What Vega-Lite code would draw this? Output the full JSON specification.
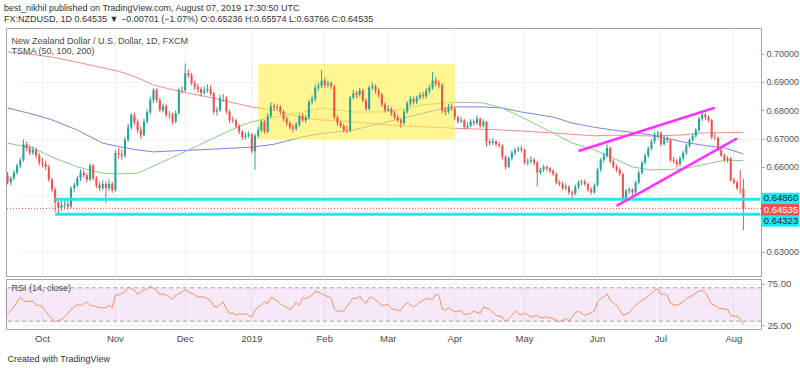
{
"$schema": "https://vega.github.io/schema/vega-lite/v6.json",
"padding": {"left": 4, "top": 3, "right": 3, "bottom": 3},
"background": "white",
"config": {
  "font": "Liberation Sans Narrow, Liberation Sans, sans-serif",
  "view": {"stroke": null},
  "axis": {"labelColor": "#4a4a4a", "labelFontSize": 9, "gridColor": "#eef1f6", "domain": false, "ticks": false, "minExtent": 0, "title": null}
},
"title": {"text": "best_nikhil published on TradingView.com, August 07, 2019 17:30:50 UTC", "subtitle": "FX:NZDUSD, 1D  0.64535 ▼ −0.00701 (−1.07%) O:0.65236 H:0.65574 L:0.63766 C:0.64535", "anchor": "start", "fontSize": 9, "fontWeight": "normal", "color": "#333333", "subtitleFontSize": 9, "subtitleColor": "#333333", "subtitlePadding": 2, "offset": 4, "dx": -1},
"datasets": {
"c": [
{"d":"2018-09-14","o":0.6570,"h":0.6582,"l":0.6538,"c":0.6545},
{"d":"2018-09-17","o":0.6545,"h":0.6566,"l":0.6535,"c":0.6560},
{"d":"2018-09-18","o":0.6560,"h":0.6588,"l":0.6552,"c":0.6580},
{"d":"2018-09-19","o":0.6580,"h":0.6612,"l":0.6572,"c":0.6605},
{"d":"2018-09-20","o":0.6605,"h":0.6632,"l":0.6595,"c":0.6625},
{"d":"2018-09-21","o":0.6625,"h":0.6697,"l":0.6618,"c":0.6680},
{"d":"2018-09-24","o":0.6680,"h":0.6690,"l":0.6655,"c":0.6665},
{"d":"2018-09-25","o":0.6665,"h":0.6678,"l":0.6640,"c":0.6650},
{"d":"2018-09-26","o":0.6650,"h":0.6672,"l":0.6642,"c":0.6660},
{"d":"2018-09-27","o":0.6660,"h":0.6668,"l":0.6630,"c":0.6640},
{"d":"2018-09-28","o":0.6640,"h":0.6650,"l":0.6605,"c":0.6615},
{"d":"2018-10-01","o":0.6615,"h":0.6632,"l":0.6598,"c":0.6610},
{"d":"2018-10-02","o":0.6610,"h":0.6622,"l":0.6588,"c":0.6600},
{"d":"2018-10-03","o":0.6600,"h":0.6608,"l":0.6548,"c":0.6555},
{"d":"2018-10-04","o":0.6555,"h":0.6562,"l":0.6510,"c":0.6520},
{"d":"2018-10-05","o":0.6520,"h":0.6528,"l":0.6440,"c":0.6476},
{"d":"2018-10-08","o":0.6476,"h":0.6488,"l":0.6432,"c":0.6455},
{"d":"2018-10-09","o":0.6455,"h":0.6480,"l":0.6445,"c":0.6465},
{"d":"2018-10-10","o":0.6465,"h":0.6490,"l":0.6450,"c":0.6470},
{"d":"2018-10-11","o":0.6470,"h":0.6482,"l":0.6448,"c":0.6460},
{"d":"2018-10-12","o":0.6460,"h":0.6532,"l":0.6455,"c":0.6525},
{"d":"2018-10-15","o":0.6525,"h":0.6545,"l":0.6510,"c":0.6535},
{"d":"2018-10-16","o":0.6535,"h":0.6568,"l":0.6528,"c":0.6560},
{"d":"2018-10-17","o":0.6560,"h":0.6592,"l":0.6550,"c":0.6580},
{"d":"2018-10-18","o":0.6580,"h":0.6590,"l":0.6562,"c":0.6570},
{"d":"2018-10-19","o":0.6570,"h":0.6578,"l":0.6545,"c":0.6555},
{"d":"2018-10-22","o":0.6555,"h":0.6612,"l":0.6550,"c":0.6605},
{"d":"2018-10-23","o":0.6605,"h":0.6610,"l":0.6552,"c":0.6560},
{"d":"2018-10-24","o":0.6560,"h":0.6568,"l":0.6525,"c":0.6535},
{"d":"2018-10-25","o":0.6535,"h":0.6548,"l":0.6515,"c":0.6525},
{"d":"2018-10-26","o":0.6525,"h":0.6552,"l":0.6518,"c":0.6540},
{"d":"2018-10-29","o":0.6540,"h":0.6548,"l":0.6472,"c":0.6525},
{"d":"2018-10-30","o":0.6525,"h":0.6555,"l":0.6515,"c":0.6540},
{"d":"2018-10-31","o":0.6540,"h":0.6548,"l":0.6508,"c":0.6518},
{"d":"2018-11-01","o":0.6518,"h":0.6660,"l":0.6512,"c":0.6649},
{"d":"2018-11-02","o":0.6649,"h":0.6668,"l":0.6630,"c":0.6645},
{"d":"2018-11-05","o":0.6645,"h":0.6662,"l":0.6625,"c":0.6640},
{"d":"2018-11-06","o":0.6640,"h":0.6705,"l":0.6632,"c":0.6695},
{"d":"2018-11-07","o":0.6695,"h":0.6752,"l":0.6688,"c":0.6740},
{"d":"2018-11-08","o":0.6740,"h":0.6790,"l":0.6730,"c":0.6783},
{"d":"2018-11-09","o":0.6783,"h":0.6792,"l":0.6748,"c":0.6759},
{"d":"2018-11-12","o":0.6759,"h":0.6768,"l":0.6720,"c":0.6730},
{"d":"2018-11-13","o":0.6730,"h":0.6742,"l":0.6700,"c":0.6713},
{"d":"2018-11-14","o":0.6713,"h":0.6770,"l":0.6708,"c":0.6760},
{"d":"2018-11-15","o":0.6760,"h":0.6805,"l":0.6752,"c":0.6794},
{"d":"2018-11-16","o":0.6794,"h":0.6848,"l":0.6785,"c":0.6836},
{"d":"2018-11-19","o":0.6836,"h":0.6880,"l":0.6825,"c":0.6872},
{"d":"2018-11-20","o":0.6872,"h":0.6878,"l":0.6828,"c":0.6836},
{"d":"2018-11-21","o":0.6836,"h":0.6845,"l":0.6795,"c":0.6800},
{"d":"2018-11-22","o":0.6800,"h":0.6825,"l":0.6792,"c":0.6815},
{"d":"2018-11-23","o":0.6815,"h":0.6822,"l":0.6775,"c":0.6783},
{"d":"2018-11-26","o":0.6783,"h":0.6798,"l":0.6770,"c":0.6785},
{"d":"2018-11-27","o":0.6785,"h":0.6792,"l":0.6750,"c":0.6760},
{"d":"2018-11-28","o":0.6760,"h":0.6800,"l":0.6755,"c":0.6790},
{"d":"2018-11-29","o":0.6790,"h":0.6880,"l":0.6785,"c":0.6872},
{"d":"2018-11-30","o":0.6872,"h":0.6885,"l":0.6858,"c":0.6870},
{"d":"2018-12-03","o":0.6870,"h":0.6966,"l":0.6865,"c":0.6931},
{"d":"2018-12-04","o":0.6931,"h":0.6945,"l":0.6915,"c":0.6925},
{"d":"2018-12-05","o":0.6925,"h":0.6932,"l":0.6888,"c":0.6895},
{"d":"2018-12-06","o":0.6895,"h":0.6905,"l":0.6872,"c":0.6883},
{"d":"2018-12-07","o":0.6883,"h":0.6895,"l":0.6862,"c":0.6875},
{"d":"2018-12-10","o":0.6875,"h":0.6882,"l":0.6848,"c":0.6861},
{"d":"2018-12-11","o":0.6861,"h":0.6885,"l":0.6855,"c":0.6870},
{"d":"2018-12-12","o":0.6870,"h":0.6892,"l":0.6862,"c":0.6875},
{"d":"2018-12-13","o":0.6875,"h":0.6888,"l":0.6852,"c":0.6860},
{"d":"2018-12-14","o":0.6860,"h":0.6865,"l":0.6785,"c":0.6795},
{"d":"2018-12-17","o":0.6795,"h":0.6812,"l":0.6782,"c":0.6800},
{"d":"2018-12-18","o":0.6800,"h":0.6855,"l":0.6795,"c":0.6843},
{"d":"2018-12-19","o":0.6843,"h":0.6858,"l":0.6830,"c":0.6843},
{"d":"2018-12-20","o":0.6843,"h":0.6850,"l":0.6788,"c":0.6795},
{"d":"2018-12-21","o":0.6795,"h":0.6802,"l":0.6755,"c":0.6766},
{"d":"2018-12-24","o":0.6766,"h":0.6778,"l":0.6755,"c":0.6765},
{"d":"2018-12-25","o":0.6765,"h":0.6770,"l":0.6738,"c":0.6745},
{"d":"2018-12-26","o":0.6745,"h":0.6752,"l":0.6715,"c":0.6725},
{"d":"2018-12-27","o":0.6725,"h":0.6730,"l":0.6695,"c":0.6705},
{"d":"2018-12-28","o":0.6705,"h":0.6722,"l":0.6698,"c":0.6710},
{"d":"2018-12-31","o":0.6710,"h":0.6725,"l":0.6702,"c":0.6715},
{"d":"2019-01-01","o":0.6715,"h":0.6720,"l":0.6648,"c":0.6655},
{"d":"2019-01-02","o":0.6655,"h":0.6718,"l":0.6590,"c":0.6710},
{"d":"2019-01-03","o":0.6710,"h":0.6742,"l":0.6702,"c":0.6730},
{"d":"2019-01-04","o":0.6730,"h":0.6768,"l":0.6722,"c":0.6760},
{"d":"2019-01-07","o":0.6760,"h":0.6765,"l":0.6718,"c":0.6725},
{"d":"2019-01-08","o":0.6725,"h":0.6790,"l":0.6720,"c":0.6780},
{"d":"2019-01-09","o":0.6780,"h":0.6828,"l":0.6772,"c":0.6815},
{"d":"2019-01-10","o":0.6815,"h":0.6825,"l":0.6798,"c":0.6810},
{"d":"2019-01-11","o":0.6810,"h":0.6822,"l":0.6800,"c":0.6812},
{"d":"2019-01-14","o":0.6812,"h":0.6818,"l":0.6785,"c":0.6795},
{"d":"2019-01-15","o":0.6795,"h":0.6802,"l":0.6762,"c":0.6770},
{"d":"2019-01-16","o":0.6770,"h":0.6778,"l":0.6745,"c":0.6755},
{"d":"2019-01-17","o":0.6755,"h":0.6762,"l":0.6732,"c":0.6740},
{"d":"2019-01-18","o":0.6740,"h":0.6752,"l":0.6722,"c":0.6735},
{"d":"2019-01-21","o":0.6735,"h":0.6758,"l":0.6728,"c":0.6750},
{"d":"2019-01-22","o":0.6750,"h":0.6788,"l":0.6742,"c":0.6780},
{"d":"2019-01-23","o":0.6780,"h":0.6790,"l":0.6758,"c":0.6765},
{"d":"2019-01-24","o":0.6765,"h":0.6782,"l":0.6755,"c":0.6775},
{"d":"2019-01-25","o":0.6775,"h":0.6838,"l":0.6768,"c":0.6830},
{"d":"2019-01-28","o":0.6830,"h":0.6852,"l":0.6820,"c":0.6840},
{"d":"2019-01-29","o":0.6840,"h":0.6892,"l":0.6832,"c":0.6880},
{"d":"2019-01-30","o":0.6880,"h":0.6898,"l":0.6870,"c":0.6885},
{"d":"2019-01-31","o":0.6885,"h":0.6942,"l":0.6878,"c":0.6905},
{"d":"2019-02-01","o":0.6905,"h":0.6915,"l":0.6878,"c":0.6890},
{"d":"2019-02-04","o":0.6890,"h":0.6905,"l":0.6880,"c":0.6895},
{"d":"2019-02-05","o":0.6895,"h":0.6902,"l":0.6875,"c":0.6885},
{"d":"2019-02-06","o":0.6885,"h":0.6890,"l":0.6768,"c":0.6775},
{"d":"2019-02-07","o":0.6775,"h":0.6782,"l":0.6745,"c":0.6755},
{"d":"2019-02-08","o":0.6755,"h":0.6762,"l":0.6738,"c":0.6745},
{"d":"2019-02-11","o":0.6745,"h":0.6752,"l":0.6722,"c":0.6730},
{"d":"2019-02-12","o":0.6730,"h":0.6745,"l":0.6720,"c":0.6728},
{"d":"2019-02-13","o":0.6728,"h":0.6852,"l":0.6722,"c":0.6845},
{"d":"2019-02-14","o":0.6845,"h":0.6872,"l":0.6838,"c":0.6860},
{"d":"2019-02-15","o":0.6860,"h":0.6868,"l":0.6842,"c":0.6855},
{"d":"2019-02-18","o":0.6855,"h":0.6880,"l":0.6848,"c":0.6870},
{"d":"2019-02-19","o":0.6870,"h":0.6876,"l":0.6828,"c":0.6835},
{"d":"2019-02-20","o":0.6835,"h":0.6842,"l":0.6798,"c":0.6805},
{"d":"2019-02-21","o":0.6805,"h":0.6888,"l":0.6800,"c":0.6880},
{"d":"2019-02-22","o":0.6880,"h":0.6898,"l":0.6872,"c":0.6885},
{"d":"2019-02-25","o":0.6885,"h":0.6892,"l":0.6860,"c":0.6870},
{"d":"2019-02-26","o":0.6870,"h":0.6878,"l":0.6845,"c":0.6855},
{"d":"2019-02-27","o":0.6855,"h":0.6862,"l":0.6812,"c":0.6820},
{"d":"2019-02-28","o":0.6820,"h":0.6828,"l":0.6792,"c":0.6800},
{"d":"2019-03-01","o":0.6800,"h":0.6818,"l":0.6795,"c":0.6805},
{"d":"2019-03-04","o":0.6805,"h":0.6812,"l":0.6780,"c":0.6790},
{"d":"2019-03-05","o":0.6790,"h":0.6798,"l":0.6768,"c":0.6775},
{"d":"2019-03-06","o":0.6775,"h":0.6785,"l":0.6758,"c":0.6765},
{"d":"2019-03-07","o":0.6765,"h":0.6772,"l":0.6738,"c":0.6755},
{"d":"2019-03-08","o":0.6755,"h":0.6802,"l":0.6748,"c":0.6795},
{"d":"2019-03-11","o":0.6795,"h":0.6832,"l":0.6788,"c":0.6825},
{"d":"2019-03-12","o":0.6825,"h":0.6850,"l":0.6815,"c":0.6840},
{"d":"2019-03-13","o":0.6840,"h":0.6848,"l":0.6820,"c":0.6830},
{"d":"2019-03-14","o":0.6830,"h":0.6852,"l":0.6822,"c":0.6845},
{"d":"2019-03-15","o":0.6845,"h":0.6862,"l":0.6838,"c":0.6855},
{"d":"2019-03-18","o":0.6855,"h":0.6865,"l":0.6840,"c":0.6850},
{"d":"2019-03-19","o":0.6850,"h":0.6878,"l":0.6842,"c":0.6870},
{"d":"2019-03-20","o":0.6870,"h":0.6890,"l":0.6860,"c":0.6880},
{"d":"2019-03-21","o":0.6880,"h":0.6935,"l":0.6872,"c":0.6905},
{"d":"2019-03-22","o":0.6905,"h":0.6918,"l":0.6885,"c":0.6895},
{"d":"2019-03-25","o":0.6895,"h":0.6905,"l":0.6878,"c":0.6890},
{"d":"2019-03-26","o":0.6890,"h":0.6895,"l":0.6790,"c":0.6800},
{"d":"2019-03-27","o":0.6800,"h":0.6812,"l":0.6782,"c":0.6795},
{"d":"2019-03-28","o":0.6795,"h":0.6822,"l":0.6788,"c":0.6810},
{"d":"2019-03-29","o":0.6810,"h":0.6825,"l":0.6798,"c":0.6805},
{"d":"2019-04-01","o":0.6805,"h":0.6812,"l":0.6765,"c":0.6775},
{"d":"2019-04-02","o":0.6775,"h":0.6782,"l":0.6752,"c":0.6760},
{"d":"2019-04-03","o":0.6760,"h":0.6778,"l":0.6755,"c":0.6765},
{"d":"2019-04-04","o":0.6765,"h":0.6770,"l":0.6732,"c":0.6740},
{"d":"2019-04-05","o":0.6740,"h":0.6758,"l":0.6735,"c":0.6745},
{"d":"2019-04-08","o":0.6745,"h":0.6768,"l":0.6740,"c":0.6760},
{"d":"2019-04-09","o":0.6760,"h":0.6768,"l":0.6745,"c":0.6755},
{"d":"2019-04-10","o":0.6755,"h":0.6782,"l":0.6748,"c":0.6770},
{"d":"2019-04-11","o":0.6770,"h":0.6775,"l":0.6738,"c":0.6745},
{"d":"2019-04-12","o":0.6745,"h":0.6768,"l":0.6740,"c":0.6760},
{"d":"2019-04-15","o":0.6760,"h":0.6762,"l":0.6672,"c":0.6690},
{"d":"2019-04-16","o":0.6690,"h":0.6698,"l":0.6675,"c":0.6685},
{"d":"2019-04-17","o":0.6685,"h":0.6702,"l":0.6678,"c":0.6690},
{"d":"2019-04-18","o":0.6690,"h":0.6695,"l":0.6672,"c":0.6680},
{"d":"2019-04-19","o":0.6680,"h":0.6688,"l":0.6668,"c":0.6675},
{"d":"2019-04-22","o":0.6675,"h":0.6680,"l":0.6625,"c":0.6635},
{"d":"2019-04-23","o":0.6635,"h":0.6642,"l":0.6590,"c":0.6600},
{"d":"2019-04-24","o":0.6600,"h":0.6638,"l":0.6595,"c":0.6630},
{"d":"2019-04-25","o":0.6630,"h":0.6658,"l":0.6622,"c":0.6650},
{"d":"2019-04-26","o":0.6650,"h":0.6668,"l":0.6640,"c":0.6660},
{"d":"2019-04-29","o":0.6660,"h":0.6672,"l":0.6652,"c":0.6665},
{"d":"2019-04-30","o":0.6665,"h":0.6675,"l":0.6650,"c":0.6660},
{"d":"2019-05-01","o":0.6660,"h":0.6665,"l":0.6608,"c":0.6615},
{"d":"2019-05-02","o":0.6615,"h":0.6630,"l":0.6605,"c":0.6620},
{"d":"2019-05-03","o":0.6620,"h":0.6638,"l":0.6612,"c":0.6625},
{"d":"2019-05-06","o":0.6625,"h":0.6632,"l":0.6605,"c":0.6615},
{"d":"2019-05-07","o":0.6615,"h":0.6622,"l":0.6530,"c":0.6580},
{"d":"2019-05-08","o":0.6580,"h":0.6598,"l":0.6572,"c":0.6590},
{"d":"2019-05-09","o":0.6590,"h":0.6608,"l":0.6582,"c":0.6600},
{"d":"2019-05-10","o":0.6600,"h":0.6605,"l":0.6585,"c":0.6595},
{"d":"2019-05-13","o":0.6595,"h":0.6600,"l":0.6578,"c":0.6585},
{"d":"2019-05-14","o":0.6585,"h":0.6592,"l":0.6568,"c":0.6575},
{"d":"2019-05-15","o":0.6575,"h":0.6580,"l":0.6538,"c":0.6545},
{"d":"2019-05-16","o":0.6545,"h":0.6552,"l":0.6532,"c":0.6540},
{"d":"2019-05-17","o":0.6540,"h":0.6548,"l":0.6518,"c":0.6525},
{"d":"2019-05-20","o":0.6525,"h":0.6542,"l":0.6518,"c":0.6530},
{"d":"2019-05-21","o":0.6530,"h":0.6535,"l":0.6502,"c":0.6510},
{"d":"2019-05-22","o":0.6510,"h":0.6518,"l":0.6490,"c":0.6505},
{"d":"2019-05-23","o":0.6505,"h":0.6538,"l":0.6500,"c":0.6530},
{"d":"2019-05-24","o":0.6530,"h":0.6552,"l":0.6522,"c":0.6545},
{"d":"2019-05-27","o":0.6545,"h":0.6555,"l":0.6535,"c":0.6548},
{"d":"2019-05-28","o":0.6548,"h":0.6556,"l":0.6532,"c":0.6540},
{"d":"2019-05-29","o":0.6540,"h":0.6545,"l":0.6512,"c":0.6520},
{"d":"2019-05-30","o":0.6520,"h":0.6528,"l":0.6502,"c":0.6510},
{"d":"2019-05-31","o":0.6510,"h":0.6542,"l":0.6505,"c":0.6535},
{"d":"2019-06-03","o":0.6535,"h":0.6598,"l":0.6530,"c":0.6590},
{"d":"2019-06-04","o":0.6590,"h":0.6632,"l":0.6582,"c":0.6625},
{"d":"2019-06-05","o":0.6625,"h":0.6650,"l":0.6615,"c":0.6640},
{"d":"2019-06-06","o":0.6640,"h":0.6680,"l":0.6632,"c":0.6667},
{"d":"2019-06-07","o":0.6667,"h":0.6672,"l":0.6612,"c":0.6620},
{"d":"2019-06-10","o":0.6620,"h":0.6628,"l":0.6595,"c":0.6600},
{"d":"2019-06-11","o":0.6600,"h":0.6608,"l":0.6582,"c":0.6590},
{"d":"2019-06-12","o":0.6590,"h":0.6598,"l":0.6568,"c":0.6575},
{"d":"2019-06-13","o":0.6575,"h":0.6580,"l":0.6486,"c":0.6490},
{"d":"2019-06-14","o":0.6490,"h":0.6522,"l":0.6485,"c":0.6515},
{"d":"2019-06-17","o":0.6515,"h":0.6528,"l":0.6505,"c":0.6520},
{"d":"2019-06-18","o":0.6520,"h":0.6525,"l":0.6500,"c":0.6510},
{"d":"2019-06-19","o":0.6510,"h":0.6552,"l":0.6505,"c":0.6545},
{"d":"2019-06-20","o":0.6545,"h":0.6588,"l":0.6538,"c":0.6580},
{"d":"2019-06-21","o":0.6580,"h":0.6622,"l":0.6572,"c":0.6615},
{"d":"2019-06-24","o":0.6615,"h":0.6648,"l":0.6608,"c":0.6640},
{"d":"2019-06-25","o":0.6640,"h":0.6672,"l":0.6632,"c":0.6665},
{"d":"2019-06-26","o":0.6665,"h":0.6698,"l":0.6658,"c":0.6690},
{"d":"2019-06-27","o":0.6690,"h":0.6722,"l":0.6682,"c":0.6715},
{"d":"2019-06-28","o":0.6715,"h":0.6728,"l":0.6700,"c":0.6720},
{"d":"2019-07-01","o":0.6720,"h":0.6725,"l":0.6672,"c":0.6680},
{"d":"2019-07-02","o":0.6680,"h":0.6712,"l":0.6675,"c":0.6700},
{"d":"2019-07-03","o":0.6700,"h":0.6708,"l":0.6685,"c":0.6695},
{"d":"2019-07-04","o":0.6695,"h":0.6700,"l":0.6618,"c":0.6625},
{"d":"2019-07-05","o":0.6625,"h":0.6635,"l":0.6612,"c":0.6620},
{"d":"2019-07-08","o":0.6620,"h":0.6628,"l":0.6598,"c":0.6610},
{"d":"2019-07-09","o":0.6610,"h":0.6638,"l":0.6602,"c":0.6630},
{"d":"2019-07-10","o":0.6630,"h":0.6658,"l":0.6622,"c":0.6650},
{"d":"2019-07-11","o":0.6650,"h":0.6682,"l":0.6642,"c":0.6675},
{"d":"2019-07-12","o":0.6675,"h":0.6702,"l":0.6668,"c":0.6695},
{"d":"2019-07-15","o":0.6695,"h":0.6718,"l":0.6688,"c":0.6710},
{"d":"2019-07-16","o":0.6710,"h":0.6738,"l":0.6702,"c":0.6730},
{"d":"2019-07-17","o":0.6730,"h":0.6778,"l":0.6722,"c":0.6770},
{"d":"2019-07-18","o":0.6770,"h":0.6790,"l":0.6762,"c":0.6785},
{"d":"2019-07-19","o":0.6785,"h":0.6790,"l":0.6765,"c":0.6775},
{"d":"2019-07-22","o":0.6775,"h":0.6782,"l":0.6758,"c":0.6765},
{"d":"2019-07-23","o":0.6765,"h":0.6770,"l":0.6698,"c":0.6705},
{"d":"2019-07-24","o":0.6705,"h":0.6718,"l":0.6695,"c":0.6702},
{"d":"2019-07-25","o":0.6702,"h":0.6708,"l":0.6655,"c":0.6660},
{"d":"2019-07-26","o":0.6660,"h":0.6668,"l":0.6635,"c":0.6640},
{"d":"2019-07-29","o":0.6640,"h":0.6648,"l":0.6618,"c":0.6625},
{"d":"2019-07-30","o":0.6625,"h":0.6638,"l":0.6615,"c":0.6630},
{"d":"2019-07-31","o":0.6630,"h":0.6635,"l":0.6548,"c":0.6553},
{"d":"2019-08-01","o":0.6553,"h":0.6562,"l":0.6538,"c":0.6545},
{"d":"2019-08-02","o":0.6545,"h":0.6552,"l":0.6518,"c":0.6525},
{"d":"2019-08-05","o":0.6525,"h":0.6590,"l":0.6505,"c":0.65236},
{"d":"2019-08-06","o":0.65236,"h":0.65574,"l":0.63766,"c":0.64535}
],
"ma": [
{"d":"2018-09-14","g":0.6684,"b":0.6808,"r":0.7006},
{"d":"2018-09-26","g":0.6667,"b":0.6786,"r":0.6997},
{"d":"2018-10-04","g":0.6635,"b":0.6766,"r":0.6988},
{"d":"2018-10-16","g":0.6600,"b":0.6730,"r":0.6970},
{"d":"2018-10-26","g":0.6578,"b":0.6684,"r":0.6950},
{"d":"2018-11-02","g":0.6575,"b":0.6672,"r":0.6938},
{"d":"2018-11-12","g":0.6578,"b":0.6660,"r":0.6915},
{"d":"2018-11-19","g":0.6603,"b":0.6653,"r":0.6889},
{"d":"2018-11-30","g":0.6649,"b":0.6658,"r":0.6865},
{"d":"2018-12-14","g":0.6702,"b":0.6663,"r":0.6843},
{"d":"2018-12-27","g":0.6748,"b":0.6668,"r":0.6819},
{"d":"2019-01-01","g":0.6759,"b":0.6670,"r":0.6812},
{"d":"2019-01-10","g":0.6776,"b":0.6680,"r":0.6800},
{"d":"2019-01-23","g":0.6794,"b":0.6706,"r":0.6773},
{"d":"2019-01-31","g":0.6808,"b":0.6718,"r":0.6766},
{"d":"2019-02-14","g":0.6794,"b":0.6730,"r":0.6759},
{"d":"2019-02-27","g":0.6794,"b":0.6755,"r":0.6750},
{"d":"2019-03-08","g":0.6805,"b":0.6773,"r":0.6745},
{"d":"2019-03-18","g":0.6819,"b":0.6790,"r":0.6742},
{"d":"2019-03-29","g":0.6829,"b":0.6812,"r":0.6737},
{"d":"2019-04-12","g":0.6826,"b":0.6812,"r":0.6733},
{"d":"2019-04-22","g":0.6808,"b":0.6808,"r":0.6730},
{"d":"2019-04-30","g":0.6776,"b":0.6794,"r":0.6727},
{"d":"2019-05-14","g":0.6720,"b":0.6776,"r":0.6720},
{"d":"2019-05-22","g":0.6684,"b":0.6755,"r":0.6715},
{"d":"2019-05-31","g":0.6660,"b":0.6740,"r":0.6710},
{"d":"2019-06-10","g":0.6631,"b":0.6730,"r":0.6712},
{"d":"2019-06-18","g":0.6600,"b":0.6722,"r":0.6711},
{"d":"2019-06-26","g":0.6589,"b":0.6713,"r":0.6709},
{"d":"2019-07-10","g":0.6593,"b":0.6688,"r":0.6713},
{"d":"2019-07-18","g":0.6607,"b":0.6677,"r":0.6720},
{"d":"2019-07-29","g":0.6624,"b":0.6667,"r":0.6721},
{"d":"2019-08-06","g":0.6622,"b":0.6646,"r":0.6722}
],
"rsi": [
{"d":"2018-09-14","v":39},{"d":"2018-09-17","v":43},{"d":"2018-09-18","v":47},{"d":"2018-09-20","v":59},{"d":"2018-09-21","v":55},
{"d":"2018-09-24","v":53.5},{"d":"2018-09-26","v":54},{"d":"2018-09-27","v":49},{"d":"2018-09-28","v":49},{"d":"2018-10-01","v":47},
{"d":"2018-10-03","v":37},{"d":"2018-10-04","v":33},{"d":"2018-10-05","v":29},{"d":"2018-10-09","v":32},{"d":"2018-10-10","v":35},
{"d":"2018-10-11","v":39},{"d":"2018-10-12","v":44},{"d":"2018-10-15","v":47},{"d":"2018-10-16","v":51},{"d":"2018-10-17","v":48.5},
{"d":"2018-10-18","v":51},{"d":"2018-10-19","v":53},{"d":"2018-10-22","v":49},{"d":"2018-10-23","v":48.5},{"d":"2018-10-25","v":46},
{"d":"2018-10-29","v":46},{"d":"2018-10-30","v":49},{"d":"2018-10-31","v":46},{"d":"2018-11-01","v":61},{"d":"2018-11-02","v":61.5},
{"d":"2018-11-06","v":65},{"d":"2018-11-07","v":71},{"d":"2018-11-09","v":67},{"d":"2018-11-12","v":62},{"d":"2018-11-13","v":65},
{"d":"2018-11-15","v":69},{"d":"2018-11-16","v":72},{"d":"2018-11-20","v":67},{"d":"2018-11-21","v":62},{"d":"2018-11-22","v":63},
{"d":"2018-11-26","v":59},{"d":"2018-11-27","v":56},{"d":"2018-11-28","v":61},{"d":"2018-11-29","v":63},{"d":"2018-11-30","v":65},
{"d":"2018-12-03","v":68},{"d":"2018-12-04","v":65},{"d":"2018-12-06","v":62},{"d":"2018-12-07","v":59},{"d":"2018-12-11","v":59},
{"d":"2018-12-12","v":57},{"d":"2018-12-13","v":55},{"d":"2018-12-14","v":48},{"d":"2018-12-17","v":47},{"d":"2018-12-19","v":53},
{"d":"2018-12-20","v":45},{"d":"2018-12-21","v":39},{"d":"2018-12-24","v":40},{"d":"2018-12-25","v":37},{"d":"2018-12-26","v":39},
{"d":"2018-12-27","v":38},{"d":"2018-12-28","v":39},{"d":"2019-01-01","v":35},{"d":"2019-01-02","v":43},{"d":"2019-01-03","v":47},
{"d":"2019-01-04","v":49},{"d":"2019-01-07","v":53},{"d":"2019-01-08","v":51},{"d":"2019-01-09","v":58},{"d":"2019-01-10","v":57},
{"d":"2019-01-14","v":51},{"d":"2019-01-15","v":48.5},{"d":"2019-01-17","v":44},{"d":"2019-01-18","v":47},{"d":"2019-01-21","v":53},
{"d":"2019-01-22","v":49},{"d":"2019-01-23","v":58},{"d":"2019-01-24","v":57},{"d":"2019-01-28","v":61},{"d":"2019-01-29","v":66},
{"d":"2019-01-31","v":63},{"d":"2019-02-01","v":61},{"d":"2019-02-05","v":58},{"d":"2019-02-06","v":45},{"d":"2019-02-07","v":42},
{"d":"2019-02-11","v":42},{"d":"2019-02-13","v":53},{"d":"2019-02-14","v":58},{"d":"2019-02-15","v":57},{"d":"2019-02-18","v":60},
{"d":"2019-02-19","v":55},{"d":"2019-02-20","v":51},{"d":"2019-02-21","v":58},{"d":"2019-02-22","v":59},{"d":"2019-02-25","v":55},
{"d":"2019-02-26","v":53},{"d":"2019-02-27","v":48.5},{"d":"2019-03-01","v":50},{"d":"2019-03-04","v":45},{"d":"2019-03-06","v":43},
{"d":"2019-03-07","v":43},{"d":"2019-03-08","v":49},{"d":"2019-03-11","v":52},{"d":"2019-03-13","v":47},{"d":"2019-03-15","v":53},
{"d":"2019-03-19","v":57},{"d":"2019-03-21","v":56},{"d":"2019-03-22","v":62},{"d":"2019-03-25","v":61},{"d":"2019-03-26","v":45},
{"d":"2019-03-27","v":43},{"d":"2019-03-28","v":46},{"d":"2019-04-01","v":41},{"d":"2019-04-03","v":43},{"d":"2019-04-04","v":38},
{"d":"2019-04-08","v":39},{"d":"2019-04-09","v":42},{"d":"2019-04-11","v":39},{"d":"2019-04-12","v":47},{"d":"2019-04-16","v":44},
{"d":"2019-04-18","v":37},{"d":"2019-04-22","v":35},{"d":"2019-04-23","v":29},{"d":"2019-04-25","v":37},{"d":"2019-04-26","v":42},
{"d":"2019-04-30","v":37},{"d":"2019-05-01","v":40},{"d":"2019-05-03","v":35},{"d":"2019-05-07","v":37},{"d":"2019-05-08","v":34},
{"d":"2019-05-10","v":35},{"d":"2019-05-14","v":33},{"d":"2019-05-16","v":29},{"d":"2019-05-20","v":33},{"d":"2019-05-21","v":30},
{"d":"2019-05-23","v":40},{"d":"2019-05-24","v":42},{"d":"2019-05-28","v":37},{"d":"2019-05-30","v":40},{"d":"2019-05-31","v":42},
{"d":"2019-06-03","v":53},{"d":"2019-06-04","v":57},{"d":"2019-06-05","v":59},{"d":"2019-06-06","v":63},{"d":"2019-06-07","v":55},
{"d":"2019-06-11","v":49},{"d":"2019-06-13","v":37},{"d":"2019-06-17","v":40},{"d":"2019-06-19","v":49},{"d":"2019-06-20","v":52},
{"d":"2019-06-21","v":55},{"d":"2019-06-24","v":57},{"d":"2019-06-26","v":63},{"d":"2019-06-27","v":67},{"d":"2019-06-28","v":69},
{"d":"2019-07-01","v":62},{"d":"2019-07-02","v":63},{"d":"2019-07-03","v":61},{"d":"2019-07-04","v":51},{"d":"2019-07-08","v":49},
{"d":"2019-07-10","v":53},{"d":"2019-07-11","v":57},{"d":"2019-07-15","v":61},{"d":"2019-07-17","v":66},{"d":"2019-07-18","v":67},
{"d":"2019-07-19","v":64},{"d":"2019-07-22","v":58},{"d":"2019-07-23","v":50},{"d":"2019-07-24","v":49},{"d":"2019-07-25","v":46},
{"d":"2019-07-26","v":45},{"d":"2019-07-30","v":44},{"d":"2019-07-31","v":37},{"d":"2019-08-01","v":36},{"d":"2019-08-02","v":36},
{"d":"2019-08-05","v":33},{"d":"2019-08-06","v":26}
],
"tags": [
{"p":0.64860,"t":"0.64860","k":"a"},
{"p":0.64535,"t":"0.64535","k":"b"},
{"p":0.64323,"t":"0.64323","k":"c"}
]
},
"spacing": 1,
"vconcat": [
{
  "spacing": 0,
  "bounds": "flush",
  "hconcat": [
  {
    "width": 755, "height": 248,
    "view": {"stroke": "#a3a6af"},
    "title": {"text": "New Zealand Dollar / U.S. Dollar, 1D, FXCM", "subtitle": "TSMA (50, 100, 200)", "anchor": "start", "offset": -28, "dx": 6, "fontSize": 9, "fontWeight": "normal", "color": "#4a4a4a", "subtitleFontSize": 9, "subtitleColor": "#4a4a4a", "subtitlePadding": 1},
    "layer": [
      {"data": {"name": "ma"}, "mark": {"type": "line", "color": "#f28b8b", "strokeWidth": 1},
       "encoding": {"x": {"field": "d", "type": "ordinal", "title": null}, "y": {"field": "r", "type": "quantitative", "title": null}}},
      {"data": {"name": "ma"}, "mark": {"type": "line", "color": "#7f7ff2", "strokeWidth": 1},
       "encoding": {"x": {"field": "d", "type": "ordinal", "title": null}, "y": {"field": "b", "type": "quantitative", "title": null}}},
      {"data": {"name": "ma"}, "mark": {"type": "line", "color": "#8cc98c", "strokeWidth": 1},
       "encoding": {"x": {"field": "d", "type": "ordinal", "title": null}, "y": {"field": "g", "type": "quantitative", "title": null}}},
      {"data": {"values": [{"d0": "2019-01-03", "d1": "2019-04-01", "p0": 0.6964, "p1": 0.6699}]},
       "mark": {"type": "rect", "color": "#fff04a", "opacity": 0.6},
       "encoding": {"x": {"field": "d0", "type": "ordinal", "title": null}, "x2": {"field": "d1"}, "y": {"field": "p0", "type": "quantitative", "title": null}, "y2": {"field": "p1"}}},
      {"data": {"name": "c"}, "mark": {"type": "rule", "strokeWidth": 1},
       "encoding": {
         "x": {"field": "d", "type": "ordinal", "title": null,
               "scale": {"type": "band", "paddingInner": 0, "paddingOuter": 0, "range": [0, 739]},
               "axis": {"values": ["2018-10-01","2018-11-01","2018-12-03","2019-01-01","2019-02-01","2019-03-01","2019-04-01","2019-05-01","2019-06-03","2019-07-01","2019-08-01"], "labels": false, "grid": true, "bandPosition": 0.5}},
         "y": {"field": "l", "type": "quantitative", "title": null,
               "scale": {"domain": [0.62145, 0.70908], "nice": false, "zero": false},
               "axis": {"orient": "right", "values": [0.63,0.64,0.65,0.66,0.67,0.68,0.69,0.70], "labels": false, "grid": true}},
         "y2": {"field": "h"},
         "color": {"condition": {"test": "datum.c >= datum.o", "value": "#26a69a"}, "value": "#ef5350"}}},
      {"data": {"name": "c"}, "mark": {"type": "bar", "width": {"band": 0.66}},
       "encoding": {
         "x": {"field": "d", "type": "ordinal", "title": null},
         "y": {"field": "o", "type": "quantitative", "title": null},
         "y2": {"field": "c"},
         "color": {"condition": {"test": "datum.c >= datum.o", "value": "#26a69a"}, "value": "#ef5350"}}},
      {"data": {"values": [{"p": 0.64535}]}, "mark": {"type": "rule", "color": "#ef5350", "strokeDash": [1, 2], "strokeWidth": 1},
       "encoding": {"y": {"field": "p", "type": "quantitative", "title": null}}},
      {"data": {"values": [{"d0": "2018-10-05", "d1": "2019-08-06", "p": 0.6486}, {"d0": "2018-10-05", "d1": "2019-08-06", "p": 0.64323}]},
       "mark": {"type": "rule", "color": "#1de9f6", "strokeWidth": 3, "x2Offset": 17},
       "encoding": {"x": {"field": "d0", "type": "ordinal", "title": null}, "x2": {"field": "d1"}, "y": {"field": "p", "type": "quantitative", "title": null}}},
      {"data": {"values": [{"d": "2019-05-24", "p": 0.6656, "g": "u"}, {"d": "2019-07-24", "p": 0.6809, "g": "u"}, {"d": "2019-06-11", "p": 0.6462, "g": "l"}, {"d": "2019-08-02", "p": 0.6701, "g": "l"}]},
       "mark": {"type": "line", "color": "#ff33ff", "strokeWidth": 2.5},
       "encoding": {"x": {"field": "d", "type": "ordinal", "title": null}, "y": {"field": "p", "type": "quantitative", "title": null}, "detail": {"field": "g"}}}
    ]
  },
  {
    "width": 38, "height": 248,
    "view": {"stroke": null},
    "data": {"name": "tags"},
    "encoding": {"y": {"field": "p", "type": "quantitative", "title": null,
       "scale": {"domain": [0.62145, 0.70908], "nice": false, "zero": false},
       "axis": {"orient": "left", "values": [0.63,0.66,0.67,0.68,0.69,0.70], "format": ".5f", "grid": false, "domain": true, "domainColor": "#a3a6af", "ticks": true, "tickSize": -3, "tickColor": "#a3a6af", "labelAlign": "left", "labelPadding": -2, "labelColor": "#555555", "labelFontSize": 9, "labelLimit": 0}}},
    "layer": [
      {"transform": [{"filter": "datum.k == 'a'"}], "mark": {"type": "tick", "color": "#1de9f6", "thickness": 11, "size": 38, "opacity": 1, "yOffset": -1}},
      {"transform": [{"filter": "datum.k == 'c'"}], "mark": {"type": "tick", "color": "#1de9f6", "thickness": 11, "size": 38, "opacity": 1, "yOffset": 7}},
      {"transform": [{"filter": "datum.k == 'b'"}], "mark": {"type": "tick", "color": "#ef5350", "thickness": 12, "size": 38, "opacity": 1, "yOffset": 1.5}},
      {"transform": [{"filter": "datum.k == 'a'"}], "mark": {"type": "text", "color": "#222222", "fontSize": 9.5, "dx": 1, "yOffset": -1}, "encoding": {"text": {"field": "t"}}},
      {"transform": [{"filter": "datum.k == 'c'"}], "mark": {"type": "text", "color": "#222222", "fontSize": 9.5, "dx": 1, "yOffset": 7}, "encoding": {"text": {"field": "t"}}},
      {"transform": [{"filter": "datum.k == 'b'"}], "mark": {"type": "text", "color": "#ffffff", "fontSize": 9.5, "dx": 1, "yOffset": 1.5}, "encoding": {"text": {"field": "t"}}}
    ]
  }
  ]
},
{
  "width": 755, "height": 50,
  "view": {"stroke": "#a3a6af"},
  "title": {"text": "RSI (14, close)", "anchor": "start", "offset": -14, "dx": 6, "fontSize": 9, "fontWeight": "normal", "color": "#4a4a4a"},
  "layer": [
    {"data": {"name": "c"}, "mark": {"type": "tick", "opacity": 0},
     "encoding": {"x": {"field": "d", "type": "ordinal", "title": "Created with TradingView",
        "scale": {"type": "band", "paddingInner": 0, "paddingOuter": 0, "range": [0, 739]},
        "axis": {"values": ["2018-10-01","2018-11-01","2018-12-03","2019-01-01","2019-02-01","2019-03-01","2019-04-01","2019-05-01","2019-06-03","2019-07-01","2019-08-01"],
                 "labelExpr": "datum.value == '2019-01-01' ? '2019' : utcFormat(toDate(datum.value), '%b')",
                 "labelAngle": 0, "labelPadding": 4, "grid": true, "bandPosition": 0.5, "labelFontSize": 9.5,
                 "title": "Created with TradingView", "titleAnchor": "start", "titleAlign": "left", "titleX": 1, "titleY": 29, "titleBaseline": "middle", "titleFontSize": 9, "titleFontWeight": "normal", "titleColor": "#333333"}}}},
    {"data": {"values": [{"lo": 30, "hi": 70}]}, "mark": {"type": "rect", "color": "#9c27b0", "opacity": 0.1},
     "encoding": {"y": {"field": "lo", "type": "quantitative", "title": null,
        "scale": {"domain": [20.55, 80.6], "nice": false, "zero": false},
        "axis": {"orient": "right", "values": [25, 50, 75], "format": ".2f", "grid": true, "domain": true, "domainColor": "#a3a6af", "ticks": true, "tickSize": 3, "tickColor": "#a3a6af", "labelPadding": 3, "labelColor": "#555555", "labelFontSize": 9.5}},
        "y2": {"field": "hi"}}},
    {"data": {"values": [{"lv": 30}, {"lv": 70}]}, "mark": {"type": "rule", "color": "#a6a0b0", "strokeDash": [4, 3], "strokeWidth": 1},
     "encoding": {"y": {"field": "lv", "type": "quantitative", "title": null}}},
    {"data": {"name": "rsi"}, "mark": {"type": "line", "color": "#f7925f", "strokeWidth": 1},
     "encoding": {
       "x": {"field": "d", "type": "ordinal", "title": "Created with TradingView"},
       "y": {"field": "v", "type": "quantitative", "title": null}}}
  ]
}
]
}
